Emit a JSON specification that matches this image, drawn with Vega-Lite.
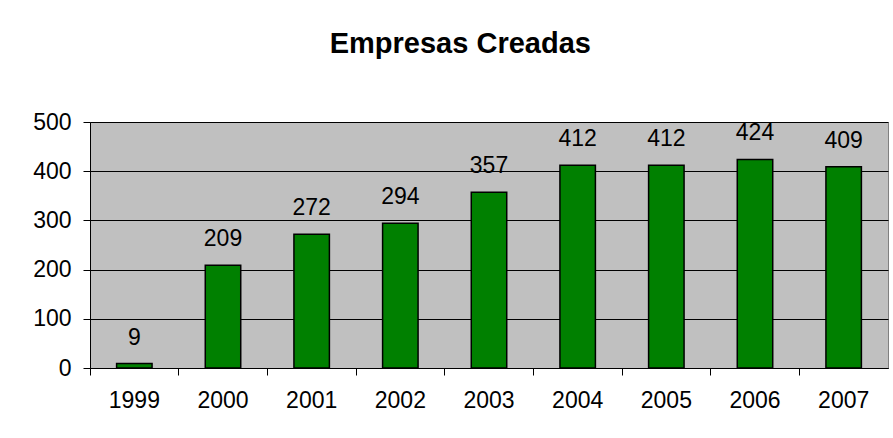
{
  "$schema": "https://vega.github.io/schema/vega-lite/v6.json",
  "width": 798,
  "height": 246,
  "autosize": "none",
  "padding": {"left": 90, "top": 122, "right": 5, "bottom": 70},
  "background": "white",
  "title": {
    "text": "Empresas Creadas",
    "font": "Liberation Sans",
    "fontSize": 29,
    "fontWeight": "bold",
    "color": "black",
    "anchor": "middle",
    "frame": "bounds",
    "baseline": "alphabetic",
    "offset": 29
  },
  "data": {
    "values": [
      {"year": "1999", "value": 9},
      {"year": "2000", "value": 209},
      {"year": "2001", "value": 272},
      {"year": "2002", "value": 294},
      {"year": "2003", "value": 357},
      {"year": "2004", "value": 412},
      {"year": "2005", "value": 412},
      {"year": "2006", "value": 424},
      {"year": "2007", "value": 409}
    ]
  },
  "encoding": {
    "x": {
      "field": "year",
      "type": "ordinal",
      "scale": {"paddingInner": 0, "paddingOuter": 0},
      "axis": {
        "title": null,
        "labelAngle": 0,
        "bandPosition": 0,
        "labelFont": "Liberation Sans",
        "labelFontSize": 23,
        "labelColor": "black",
        "labelPadding": 14,
        "tickSize": 7,
        "tickColor": "black",
        "domainColor": "black",
        "grid": false
      }
    },
    "y": {
      "field": "value",
      "type": "quantitative",
      "scale": {"domain": [0, 500], "nice": false},
      "axis": {
        "title": null,
        "values": [0, 100, 200, 300, 400, 500],
        "labelFont": "Liberation Sans",
        "labelFontSize": 23,
        "labelColor": "black",
        "labelPadding": 12,
        "tickSize": 7,
        "tickColor": "black",
        "domainColor": "black",
        "grid": true,
        "gridColor": "black",
        "gridOpacity": 1,
        "gridWidth": 1
      }
    }
  },
  "layer": [
    {
      "mark": {"type": "bar", "width": {"band": 0.4}, "color": "#008000", "stroke": "black", "strokeWidth": 1.5}
    },
    {
      "mark": {"type": "text", "font": "Liberation Sans", "fontSize": 23, "color": "black", "baseline": "alphabetic", "dy": -19},
      "encoding": {"text": {"field": "value", "type": "quantitative"}}
    }
  ],
  "config": {
    "view": {"fill": "#C0C0C0", "stroke": "#808080", "strokeWidth": 1}
  }
}
